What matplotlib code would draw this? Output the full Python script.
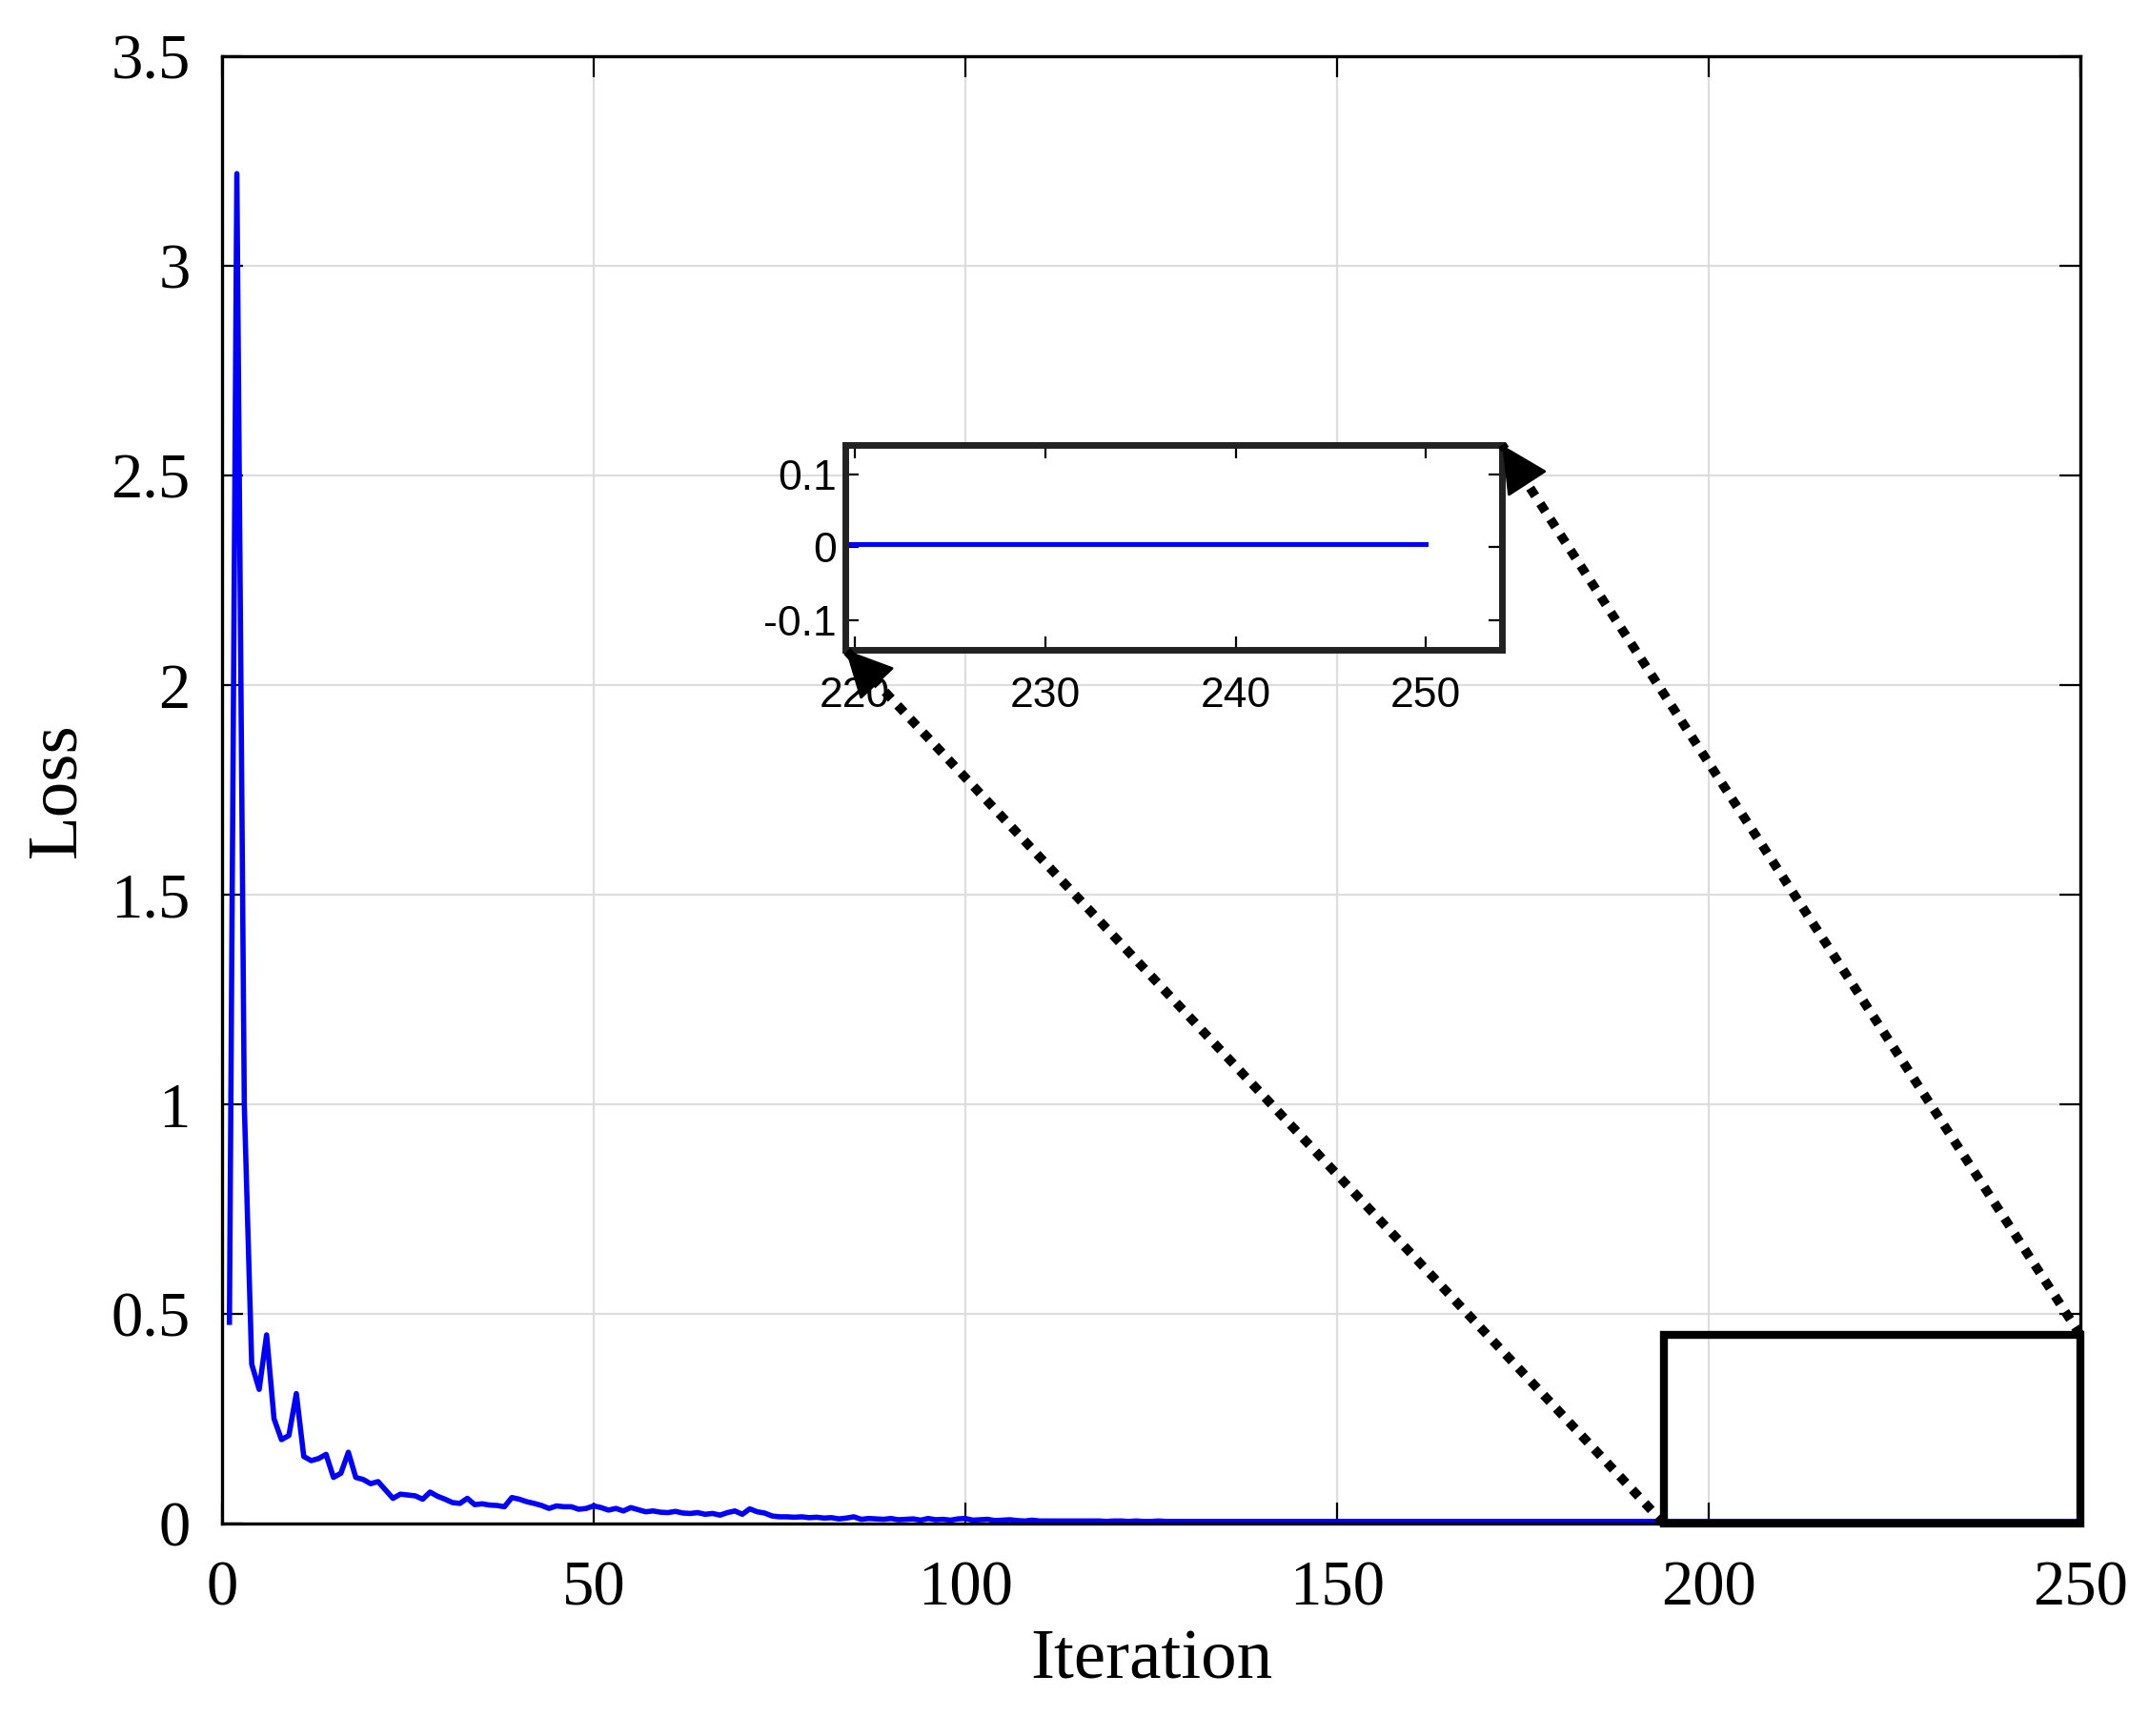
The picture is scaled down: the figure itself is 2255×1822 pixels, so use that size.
import numpy as np
import matplotlib.pyplot as plt
from matplotlib.patches import Rectangle, FancyArrowPatch
from matplotlib.lines import Line2D

# loss per iteration
loss_head = [0.48, 3.22, 1.00, 0.38, 0.32, 0.45, 0.25, 0.20, 0.21, 0.31,
             0.16, 0.15, 0.155, 0.165, 0.11, 0.12, 0.17, 0.11, 0.105, 0.095,
             0.10, 0.08, 0.06, 0.07, 0.068, 0.066, 0.058, 0.075, 0.065, 0.058,
             0.05, 0.048, 0.06, 0.045, 0.047, 0.044, 0.043, 0.040, 0.062, 0.058,
             0.052, 0.048, 0.043, 0.036, 0.042, 0.040, 0.040, 0.034, 0.036, 0.042,
             0.038, 0.032, 0.036, 0.030, 0.038, 0.033, 0.028, 0.030, 0.027, 0.026,
             0.029, 0.025, 0.024, 0.026, 0.022, 0.024, 0.020, 0.026, 0.030, 0.022,
             0.035, 0.028, 0.025, 0.018, 0.016, 0.016, 0.015, 0.016, 0.014, 0.015,
             0.013, 0.014, 0.011, 0.013, 0.016, 0.010, 0.012, 0.011, 0.010, 0.012,
             0.009, 0.010, 0.011, 0.008, 0.012, 0.009, 0.010, 0.008, 0.011, 0.012,
             0.008, 0.009, 0.010, 0.007, 0.008, 0.009, 0.007, 0.006, 0.008, 0.006]
loss_mid = [0.006, 0.006, 0.006, 0.006, 0.006, 0.006, 0.006, 0.006, 0.005, 0.006,
            0.006, 0.005, 0.006, 0.005, 0.005, 0.006, 0.005, 0.005, 0.005, 0.005,
            0.005, 0.005, 0.005, 0.005, 0.005, 0.005, 0.005, 0.005, 0.005, 0.005,
            0.005, 0.005, 0.005, 0.005, 0.005, 0.005, 0.005, 0.005, 0.005, 0.005]
loss_tail = [0.005] * 100
loss = loss_head + loss_mid + loss_tail
iteration = np.arange(1, len(loss) + 1)

zoom_x = [194, 250]
zoom_y = [0, 0.45]

plt.rcParams['font.family'] = ['Liberation Serif', 'DejaVu Serif']

fig = plt.figure(figsize=(11.275, 9.11), dpi=200)
ax = fig.add_axes([0.1033, 0.1224, 0.8647, 0.8452])
ax.plot(iteration, loss, color='#0000ff', lw=2)
ax.set_xlim(0, 250)
ax.set_ylim(0, 3.5)
ax.set_xticks([0, 50, 100, 150, 200, 250])
ax.set_yticks([0, 0.5, 1, 1.5, 2, 2.5, 3, 3.5])
ax.set_yticklabels(['0', '0.5', '1', '1.5', '2', '2.5', '3', '3.5'])
ax.tick_params(labelsize=24, direction='in', length=8, top=True, right=True)
ax.tick_params(axis='x', pad=14)
ax.tick_params(axis='y', pad=12)
ax.grid(True, color='#dddddd', lw=0.8)
ax.set_xlabel('Iteration', fontsize=27, labelpad=4)
ax.set_ylabel('Loss', fontsize=27, labelpad=8)
for s in ax.spines.values():
    s.set_linewidth(1.2)

ax.add_patch(Rectangle((zoom_x[0], zoom_y[0]), zoom_x[1] - zoom_x[0],
                       zoom_y[1] - zoom_y[0], fill=False, ec='black', lw=3,
                       zorder=5, clip_on=False))

ins = fig.add_axes([0.3935, 0.6257, 0.3055, 0.118])
ins.plot(iteration, loss, color='#0000ff', lw=1.8)
ins.set_xlim(219.5, 254)
ins.set_ylim(-0.14, 0.14)
ins.set_xticks([220, 230, 240, 250])
ins.set_yticks([-0.1, 0, 0.1])
ins.set_yticklabels(['-0.1', '0', '0.1'])
ins.tick_params(labelsize=16, direction='in', length=5, top=True, right=True)
ins.tick_params(axis='x', pad=10)
for lab in ins.get_xticklabels() + ins.get_yticklabels():
    lab.set_family(['Liberation Sans', 'DejaVu Sans'])
for s in ins.spines.values():
    s.set_linewidth(2.5)
    s.set_color('#222222')

# dotted connectors with solid heads, in figure fraction coords
to_fig = fig.transFigure.inverted()
pairs = [(ax.transData.transform((zoom_x[0], zoom_y[0])), ins.transAxes.transform((0, 0))),
         (ax.transData.transform((zoom_x[1], zoom_y[1])), ins.transAxes.transform((1, 1)))]
for pa, pb in pairs:
    a = to_fig.transform(pa)
    b = to_fig.transform(pb)
    fig.add_artist(Line2D([a[0], b[0]], [a[1], b[1]], color='black', lw=3.5,
                          linestyle=(0, (1, 1)), zorder=6))
    d = (b - a) / np.hypot(*(pb - pa)) * 30
    fig.add_artist(FancyArrowPatch(b - d, b, transform=fig.transFigure,
                                   arrowstyle='-|>,head_length=0.8,head_width=0.4',
                                   mutation_scale=20, color='black', lw=1,
                                   shrinkA=0, shrinkB=0, zorder=7))

fig.savefig('out.png', dpi=200)
